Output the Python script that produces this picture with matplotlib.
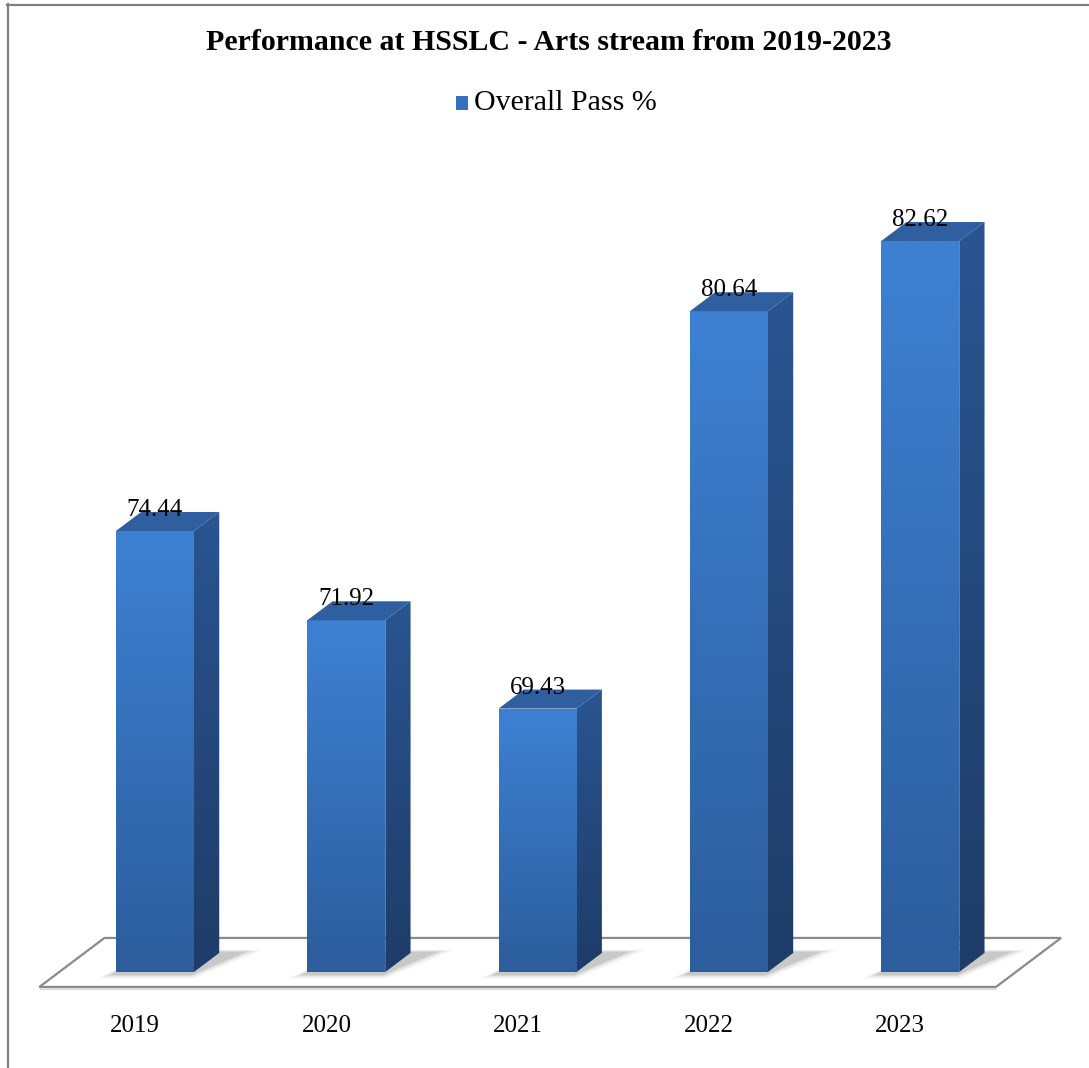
import numpy as np
import matplotlib
matplotlib.use('Agg')
from matplotlib import pyplot as plt
from matplotlib.patches import Polygon
from matplotlib.lines import Line2D

years = ['2019', '2020', '2021', '2022', '2023']
pass_pct = [74.44, 71.92, 69.43, 80.64, 82.62]
series_name = 'Overall Pass %'
title = 'Performance at HSSLC - Arts stream from 2019-2023'

BASE = 62.0          # value at the floor
HALF_W = 0.204       # half bar width (category units)
DX, DY = 0.340, 1.382  # oblique vector for full floor depth
D_FRONT, D_BACK = 0.306, 0.694  # bar depth within the floor

plt.rcParams['font.family'] = ['Liberation Serif', 'DejaVu Serif']


def proj(x, v, d):
    # oblique projection; front face of the bars sits at d = D_FRONT
    return (x + (d - D_FRONT) * DX, v + (d - D_FRONT) * DY)


def gradient_fill(ax, verts, top_col, bot_col, zorder):
    verts = np.array(verts)
    x0, x1 = verts[:, 0].min(), verts[:, 0].max()
    y0, y1 = verts[:, 1].min(), verts[:, 1].max()
    c1 = np.array(matplotlib.colors.to_rgb(top_col))
    c2 = np.array(matplotlib.colors.to_rgb(bot_col))
    t = np.linspace(0, 1, 256)[:, None]
    img = (c1 * (1 - t) + c2 * t)[:, None, :]
    im = ax.imshow(img, extent=[x0, x1, y0, y1], origin='upper', aspect='auto',
                   interpolation='bilinear', zorder=zorder)
    clip = Polygon(verts, closed=True, facecolor='none', edgecolor='none',
                   transform=ax.transData)
    ax.add_patch(clip)
    im.set_clip_path(clip)


fig = plt.figure(figsize=(10.89, 10.68), dpi=100)
ax = fig.add_axes([0, 0, 1, 1])
ax.set_xlim(-0.810, 4.882)
ax.set_ylim(59.29, 89.42)
ax.axis('off')

# chart frame (top and left edges visible)
fig.add_artist(Line2D([7 / 1089, 1], [1 - 4.5 / 1068, 1 - 4.5 / 1068],
                      color='#808080', lw=1.6, transform=fig.transFigure))
fig.add_artist(Line2D([7.5 / 1089, 7.5 / 1089], [0, 1 - 4 / 1068],
                      color='#808080', lw=1.6, transform=fig.transFigure))

# floor
n = len(years)
floor = [proj(-0.5, BASE, 0), proj(n - 0.5, BASE, 0),
         proj(n - 0.5, BASE, 1), proj(-0.5, BASE, 1)]
ax.add_patch(Polygon(floor, closed=True, facecolor='white',
                     edgecolor='#8a8a8a', lw=1.6, zorder=1))
fx0, fy0 = proj(-0.5, BASE, 0)
fx1, _ = proj(n - 0.5, BASE, 0)
ax.plot([fx0 + 0.01, fx1 - 0.005], [fy0 - 0.07, fy0 - 0.07], color='#dcdcdc',
        lw=1.5, zorder=1)

for i, v in enumerate(pass_pct):
    xl, xr = i - HALF_W, i + HALF_W
    # soft shadow on the floor
    for k, a in [(0.09, 0.035), (0.07, 0.045), (0.05, 0.06), (0.03, 0.08),
                 (0.015, 0.1)]:
        sh = [proj(xl - k * 0.6, BASE, D_FRONT - 0.05 - k),
              proj(xr + k * 0.5, BASE, D_FRONT - 0.05 - k),
              proj(xr + 0.12 + k, BASE, D_BACK + 0.02 + k * 0.5),
              proj(xl + 0.05, BASE, D_BACK + 0.02 + k * 0.5)]
        ax.add_patch(Polygon(sh, closed=True, facecolor='#404040',
                             edgecolor='none', alpha=a, zorder=2))
    # front face
    front = [proj(xl, BASE, D_FRONT), proj(xr, BASE, D_FRONT),
             proj(xr, v, D_FRONT), proj(xl, v, D_FRONT)]
    gradient_fill(ax, front, '#3e81d3', '#2c5d9c', 3)
    # side face
    side = [proj(xr, BASE, D_FRONT), proj(xr, BASE, D_BACK),
            proj(xr, v, D_BACK), proj(xr, v, D_FRONT)]
    gradient_fill(ax, side, '#2a5591', '#1e3c67', 3)
    # top face
    top = [proj(xl, v, D_FRONT), proj(xr, v, D_FRONT),
           proj(xr, v, D_BACK), proj(xl, v, D_BACK)]
    ax.add_patch(Polygon(top, closed=True, facecolor='#2f5f9e',
                         edgecolor='none', zorder=4))
    # value label
    ax.text(i, v + 0.42, f'{v:.2f}', ha='center', va='baseline',
            fontsize=18, color='black', zorder=6)
    # category label
    lx, _ = proj(i, BASE, 0)
    ax.text(lx, 60.48, years[i], ha='center', va='center', fontsize=18,
            color='black')

# title and legend
fig.text(549 / 1089, 1 - 43 / 1068, title, ha='center', va='center',
         fontsize=21.5, fontweight='bold')
fig.patches.append(matplotlib.patches.Rectangle(
    (456 / 1089, 1 - 110 / 1068), 12 / 1089, 14 / 1068,
    transform=fig.transFigure, facecolor='#3470bd', edgecolor='none'))
fig.text(474 / 1089, 1 - 103 / 1068, series_name, ha='left', va='center',
         fontsize=21.5)

fig.savefig('out.png', dpi=100)
